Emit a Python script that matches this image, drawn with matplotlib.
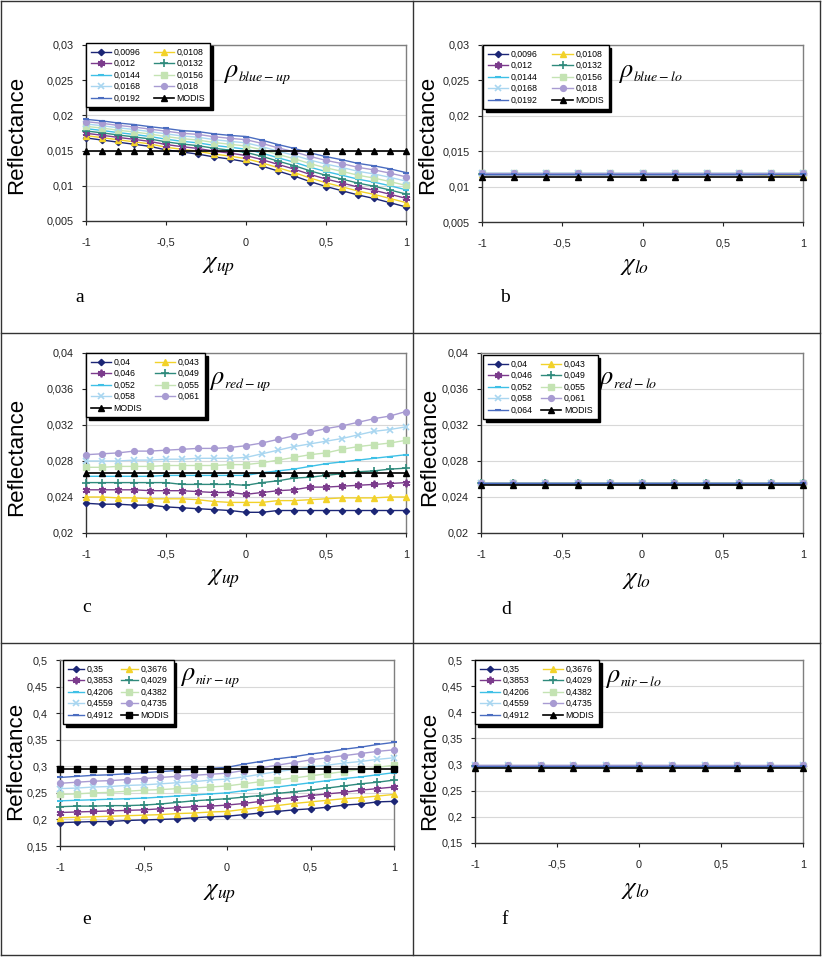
import matplotlib
matplotlib.use('Agg')
import matplotlib.pyplot as plt
from matplotlib.lines import Line2D
from matplotlib.ticker import FixedLocator, FixedFormatter

plt.rcParams['font.family'] = ['Liberation Sans', 'DejaVu Sans']
plt.rcParams['mathtext.fontset'] = 'stix'

W, H = 826, 957

# ---------------- data ----------------
x_up = [-1.0, -0.9, -0.8, -0.7, -0.6, -0.5, -0.4, -0.3, -0.2, -0.1, 0.0,
        0.1, 0.2, 0.3, 0.4, 0.5, 0.6, 0.7, 0.8, 0.9, 1.0]
x_lo = [-1.0, -0.8, -0.6, -0.4, -0.2, 0.0, 0.2, 0.4, 0.6, 0.8, 1.0]

x_ticks = [-1, -0.5, 0, 0.5, 1]
x_ticklabels = ['-1', '-0,5', '0', '0,5', '1']

# panel a / b (blue)
blue_labels = ['0,0096', '0,0108', '0,012', '0,0132', '0,0144', '0,0156', '0,0168', '0,018', '0,0192', 'MODIS']
a_0096 = [0.01680, 0.01650, 0.01620, 0.01590, 0.01560, 0.01510, 0.01480, 0.01450, 0.01410, 0.01380, 0.01340, 0.01280, 0.01210, 0.01140, 0.01060, 0.00990, 0.00930, 0.00870, 0.00820, 0.00760, 0.00700]
a_0108 = [0.01713, 0.01684, 0.01654, 0.01625, 0.01595, 0.01548, 0.01518, 0.01490, 0.01451, 0.01422, 0.01385, 0.01326, 0.01257, 0.01189, 0.01111, 0.01043, 0.00985, 0.00926, 0.00878, 0.00820, 0.00761]
a_012 = [0.01746, 0.01718, 0.01688, 0.01660, 0.01630, 0.01586, 0.01556, 0.01530, 0.01492, 0.01464, 0.01430, 0.01372, 0.01304, 0.01238, 0.01162, 0.01096, 0.01040, 0.00982, 0.00936, 0.00880, 0.00822]
a_0132 = [0.01779, 0.01752, 0.01722, 0.01695, 0.01665, 0.01624, 0.01594, 0.01570, 0.01533, 0.01506, 0.01475, 0.01418, 0.01351, 0.01287, 0.01213, 0.01149, 0.01095, 0.01038, 0.00994, 0.00940, 0.00883]
a_0144 = [0.01812, 0.01786, 0.01756, 0.01730, 0.01700, 0.01662, 0.01632, 0.01610, 0.01574, 0.01548, 0.01520, 0.01464, 0.01398, 0.01336, 0.01264, 0.01202, 0.01150, 0.01094, 0.01052, 0.01000, 0.00944]
a_0156 = [0.01845, 0.01820, 0.01790, 0.01765, 0.01735, 0.01700, 0.01670, 0.01650, 0.01615, 0.01590, 0.01565, 0.01510, 0.01445, 0.01385, 0.01315, 0.01255, 0.01205, 0.01150, 0.01110, 0.01060, 0.01005]
a_0168 = [0.01878, 0.01854, 0.01824, 0.01800, 0.01770, 0.01738, 0.01708, 0.01690, 0.01656, 0.01632, 0.01610, 0.01556, 0.01492, 0.01434, 0.01366, 0.01308, 0.01260, 0.01206, 0.01168, 0.01120, 0.01066]
a_018 = [0.01911, 0.01888, 0.01858, 0.01835, 0.01805, 0.01776, 0.01746, 0.01730, 0.01697, 0.01674, 0.01655, 0.01602, 0.01539, 0.01483, 0.01417, 0.01361, 0.01315, 0.01262, 0.01226, 0.01180, 0.01127]
a_0192 = [0.01944, 0.01922, 0.01892, 0.01870, 0.01840, 0.01814, 0.01784, 0.01770, 0.01738, 0.01716, 0.01700, 0.01648, 0.01586, 0.01532, 0.01468, 0.01414, 0.01370, 0.01318, 0.01284, 0.01240, 0.01188]
a_modis = [0.0150, 0.0150, 0.0150, 0.0150, 0.0150, 0.0150, 0.0150, 0.0150, 0.0150, 0.0150, 0.0150, 0.0150, 0.0150, 0.0150, 0.0150, 0.0150, 0.0150, 0.0150, 0.0150, 0.0150, 0.0150]

b_0096 = [0.0118, 0.0118, 0.0118, 0.0118, 0.0118, 0.0118, 0.0118, 0.0118, 0.0118, 0.0118, 0.0118]
b_0108 = [0.0118, 0.0118, 0.0118, 0.0118, 0.0118, 0.0118, 0.0118, 0.0118, 0.0118, 0.0116, 0.0116]
b_012 = [0.0118, 0.0118, 0.0118, 0.0118, 0.0118, 0.0118, 0.0118, 0.0118, 0.0118, 0.0118, 0.0118]
b_0132 = [0.0118, 0.0118, 0.0118, 0.0118, 0.0118, 0.0118, 0.0118, 0.0118, 0.0118, 0.0118, 0.0118]
b_0144 = [0.0119, 0.0119, 0.0119, 0.0119, 0.0119, 0.0119, 0.0119, 0.0119, 0.0119, 0.0119, 0.0119]
b_0156 = [0.0119, 0.0119, 0.0119, 0.0119, 0.0119, 0.0119, 0.0119, 0.0119, 0.0119, 0.0119, 0.0119]
b_0168 = [0.0119, 0.0119, 0.0119, 0.0119, 0.0119, 0.0119, 0.0119, 0.0119, 0.0119, 0.0119, 0.0119]
b_018 = [0.0119, 0.0119, 0.0119, 0.0119, 0.0119, 0.0119, 0.0119, 0.0119, 0.0119, 0.0119, 0.0119]
b_0192 = [0.0118, 0.0118, 0.0118, 0.0118, 0.0118, 0.0118, 0.0118, 0.0118, 0.0118, 0.0118, 0.0118]
b_modis = [0.0113, 0.0113, 0.0113, 0.0113, 0.0113, 0.0113, 0.0113, 0.0113, 0.0113, 0.0113, 0.0113]

blue_yticks = [0.005, 0.01, 0.015, 0.02, 0.025, 0.03]
blue_yticklabels = ['0,005', '0,01', '0,015', '0,02', '0,025', '0,03']

# panel c / d (red)
red_labels_c = ['0,04', '0,043', '0,046', '0,049', '0,052', '0,055', '0,058', '0,061', 'MODIS']
red_labels_d = ['0,04', '0,043', '0,046', '0,049', '0,052', '0,055', '0,058', '0,061', '0,064', 'MODIS']
c_04 = [0.0233, 0.0232, 0.0232, 0.0231, 0.0231, 0.0229, 0.0228, 0.0227, 0.0226, 0.0225, 0.0223, 0.0223, 0.0225, 0.0225, 0.0225, 0.0225, 0.0225, 0.0225, 0.0225, 0.0225, 0.0225]
c_043 = [0.0240, 0.0240, 0.0239, 0.0239, 0.0238, 0.0238, 0.0238, 0.0237, 0.0235, 0.0234, 0.0234, 0.0234, 0.0236, 0.0236, 0.0237, 0.0238, 0.0239, 0.0239, 0.0239, 0.0240, 0.0240]
c_046 = [0.0248, 0.0248, 0.0248, 0.0248, 0.0247, 0.0247, 0.0247, 0.0246, 0.0245, 0.0245, 0.0243, 0.0245, 0.0247, 0.0248, 0.0251, 0.0251, 0.0252, 0.0253, 0.0254, 0.0255, 0.0256]
c_049 = [0.0256, 0.0256, 0.0256, 0.0256, 0.0256, 0.0256, 0.0254, 0.0254, 0.0254, 0.0254, 0.0253, 0.0256, 0.0258, 0.0261, 0.0262, 0.0264, 0.0266, 0.0268, 0.0269, 0.0271, 0.0272]
c_052 = [0.0263, 0.0263, 0.0263, 0.0263, 0.0263, 0.0264, 0.0264, 0.0264, 0.0264, 0.0264, 0.0264, 0.0267, 0.0269, 0.0271, 0.0274, 0.0277, 0.0279, 0.0281, 0.0283, 0.0285, 0.0287]
c_055 = [0.0273, 0.0273, 0.0274, 0.0274, 0.0274, 0.0275, 0.0275, 0.0275, 0.0275, 0.0276, 0.0276, 0.0278, 0.0281, 0.0284, 0.0287, 0.0289, 0.0293, 0.0296, 0.0298, 0.0300, 0.0303]
c_058 = [0.0280, 0.0280, 0.0280, 0.0281, 0.0281, 0.0282, 0.0282, 0.0283, 0.0283, 0.0283, 0.0284, 0.0288, 0.0292, 0.0296, 0.0299, 0.0302, 0.0305, 0.0309, 0.0313, 0.0315, 0.0318]
c_061 = [0.0287, 0.0288, 0.0289, 0.0291, 0.0291, 0.0292, 0.0293, 0.0294, 0.0294, 0.0295, 0.0297, 0.0300, 0.0304, 0.0308, 0.0312, 0.0316, 0.0319, 0.0323, 0.0327, 0.0330, 0.0335]
c_modis = [0.0267, 0.0267, 0.0267, 0.0267, 0.0267, 0.0267, 0.0267, 0.0267, 0.0267, 0.0267, 0.0267, 0.0267, 0.0267, 0.0267, 0.0267, 0.0267, 0.0267, 0.0267, 0.0267, 0.0267, 0.0267]

d_04 = [0.0256, 0.0256, 0.0256, 0.0256, 0.0256, 0.0256, 0.0256, 0.0256, 0.0256, 0.0256, 0.0256]
d_043 = [0.0256, 0.0256, 0.0256, 0.0256, 0.0256, 0.0256, 0.0256, 0.0256, 0.0256, 0.0256, 0.0256]
d_046 = [0.0256, 0.0256, 0.0256, 0.0256, 0.0256, 0.0256, 0.0256, 0.0256, 0.0256, 0.0256, 0.0256]
d_049 = [0.0256, 0.0256, 0.0256, 0.0256, 0.0256, 0.0256, 0.0256, 0.0256, 0.0256, 0.0256, 0.0256]
d_052 = [0.0256, 0.0256, 0.0256, 0.0256, 0.0256, 0.0256, 0.0256, 0.0256, 0.0256, 0.0256, 0.0256]
d_055 = [0.0256, 0.0256, 0.0256, 0.0256, 0.0256, 0.0256, 0.0256, 0.0256, 0.0256, 0.0256, 0.0256]
d_058 = [0.0256, 0.0256, 0.0256, 0.0256, 0.0256, 0.0256, 0.0256, 0.0256, 0.0256, 0.0256, 0.0256]
d_061 = [0.0256, 0.0256, 0.0256, 0.0256, 0.0256, 0.0256, 0.0256, 0.0256, 0.0256, 0.0256, 0.0256]
d_064 = [0.0256, 0.0256, 0.0256, 0.0256, 0.0256, 0.0256, 0.0256, 0.0256, 0.0256, 0.0256, 0.0256]
d_modis = [0.0253, 0.0253, 0.0253, 0.0253, 0.0253, 0.0253, 0.0253, 0.0253, 0.0253, 0.0253, 0.0253]

red_yticks = [0.02, 0.024, 0.028, 0.032, 0.036, 0.04]
red_yticklabels = ['0,02', '0,024', '0,028', '0,032', '0,036', '0,04']

# panel e / f (nir)
nir_labels = ['0,35', '0,3676', '0,3853', '0,4029', '0,4206', '0,4382', '0,4559', '0,4735', '0,4912', 'MODIS']
e_35 = [0.194, 0.195, 0.196, 0.196, 0.198, 0.199, 0.200, 0.201, 0.203, 0.205, 0.206, 0.209, 0.212, 0.215, 0.218, 0.220, 0.223, 0.227, 0.229, 0.233, 0.234]
e_3676 = [0.203, 0.204, 0.205, 0.206, 0.207, 0.208, 0.209, 0.211, 0.212, 0.214, 0.215, 0.219, 0.223, 0.226, 0.230, 0.233, 0.236, 0.239, 0.241, 0.244, 0.247]
e_3853 = [0.213, 0.214, 0.215, 0.216, 0.217, 0.218, 0.220, 0.222, 0.224, 0.225, 0.227, 0.230, 0.234, 0.238, 0.241, 0.245, 0.248, 0.251, 0.255, 0.258, 0.261]
e_4029 = [0.224, 0.225, 0.225, 0.226, 0.226, 0.227, 0.229, 0.232, 0.235, 0.237, 0.239, 0.242, 0.245, 0.249, 0.252, 0.255, 0.259, 0.263, 0.267, 0.270, 0.274]
e_4206 = [0.235, 0.236, 0.237, 0.238, 0.239, 0.240, 0.242, 0.244, 0.246, 0.248, 0.250, 0.254, 0.258, 0.261, 0.265, 0.269, 0.273, 0.277, 0.280, 0.284, 0.288]
e_4382 = [0.247, 0.248, 0.250, 0.251, 0.253, 0.255, 0.256, 0.258, 0.259, 0.261, 0.263, 0.267, 0.271, 0.274, 0.278, 0.282, 0.286, 0.290, 0.294, 0.298, 0.302]
e_4559 = [0.258, 0.259, 0.261, 0.262, 0.264, 0.265, 0.267, 0.269, 0.271, 0.274, 0.276, 0.280, 0.285, 0.290, 0.294, 0.299, 0.302, 0.306, 0.309, 0.313, 0.316]
e_4735 = [0.268, 0.270, 0.272, 0.273, 0.275, 0.277, 0.279, 0.281, 0.283, 0.285, 0.287, 0.292, 0.297, 0.302, 0.307, 0.312, 0.316, 0.320, 0.324, 0.328, 0.331]
e_4912 = [0.279, 0.281, 0.283, 0.284, 0.286, 0.288, 0.290, 0.292, 0.294, 0.296, 0.298, 0.304, 0.309, 0.314, 0.318, 0.323, 0.327, 0.332, 0.336, 0.341, 0.345]
e_modis = [0.295, 0.295, 0.295, 0.295, 0.295, 0.295, 0.295, 0.295, 0.295, 0.295, 0.295, 0.295, 0.295, 0.295, 0.295, 0.295, 0.295, 0.295, 0.295, 0.295, 0.295]

f_35 = [0.298, 0.298, 0.298, 0.298, 0.298, 0.298, 0.298, 0.298, 0.298, 0.298, 0.298]
f_3676 = [0.298, 0.298, 0.298, 0.298, 0.298, 0.298, 0.298, 0.298, 0.298, 0.298, 0.298]
f_3853 = [0.298, 0.298, 0.298, 0.298, 0.298, 0.298, 0.298, 0.298, 0.296, 0.296, 0.296]
f_4029 = [0.297, 0.297, 0.297, 0.297, 0.297, 0.297, 0.297, 0.297, 0.297, 0.297, 0.297]
f_4206 = [0.298, 0.298, 0.298, 0.298, 0.298, 0.298, 0.298, 0.298, 0.298, 0.298, 0.298]
f_4382 = [0.298, 0.298, 0.298, 0.298, 0.298, 0.298, 0.298, 0.298, 0.298, 0.298, 0.298]
f_4559 = [0.299, 0.299, 0.299, 0.299, 0.299, 0.299, 0.299, 0.299, 0.299, 0.299, 0.299]
f_4735 = [0.299, 0.299, 0.299, 0.299, 0.299, 0.299, 0.299, 0.299, 0.299, 0.299, 0.299]
f_4912 = [0.298, 0.298, 0.298, 0.298, 0.298, 0.298, 0.298, 0.298, 0.298, 0.298, 0.298]
f_modis = [0.293, 0.293, 0.293, 0.293, 0.293, 0.293, 0.293, 0.293, 0.293, 0.293, 0.293]

nir_yticks = [0.15, 0.2, 0.25, 0.3, 0.35, 0.4, 0.45, 0.5]
nir_yticklabels = ['0,15', '0,2', '0,25', '0,3', '0,35', '0,4', '0,45', '0,5']

# ---------------- styles ----------------
series_styles = [
    dict(color='#1c2676', marker='D', ms=3.2),
    dict(color='#f2d22a', marker='^', ms=4.5),
    dict(color='#7b3b8c', marker=(6, 2, 0), ms=5.5, mew=1.3),
    dict(color='#2f8a7c', marker='+', ms=5.5, mew=1.2),
    dict(color='#3ec0e6', marker='_', ms=5, mew=1.5),
    dict(color='#c4e3b3', marker='s', ms=4),
    dict(color='#a9d6f0', marker='x', ms=4.5, mew=1.2),
    dict(color='#a89bd2', marker='o', ms=4.2),
    dict(color='#4a6cc0', marker='_', ms=4, mew=1.5),
]
modis_tri = dict(color='black', marker='^', ms=5)
modis_sq = dict(color='black', marker='s', ms=4.5)

fig = plt.figure(figsize=(W / 100, H / 100), dpi=100)


def fx(px):
    return px / W


def fy(py):
    return 1 - py / H


def panel(box, x, series, modis, modis_style, labels, ylim, yticks, yticklabels,
          legend_xy, leg_hl, leg_cs, ylab_xy, xlab, xlab_xy, rho_sub, rho_xy,
          letter, letter_xy):
    l, r, t, b = box
    ax = fig.add_axes([fx(l), fy(b), (r - l) / W, (b - t) / H])
    handles = []
    for vals, st in zip(series, series_styles):
        h, = ax.plot(x, vals, lw=1.0, clip_on=False, zorder=3, **st)
        handles.append(h)
    h, = ax.plot(x, modis, lw=1.2, clip_on=False, zorder=4, **modis_style)
    handles.append(h)
    ax.set_xlim(-1, 1)
    ax.set_ylim(*ylim)
    ax.xaxis.set_major_locator(FixedLocator(x_ticks))
    ax.xaxis.set_major_formatter(FixedFormatter(x_ticklabels))
    ax.yaxis.set_major_locator(FixedLocator(yticks))
    ax.yaxis.set_major_formatter(FixedFormatter(yticklabels))
    ax.tick_params(axis='both', labelsize=7.8, length=3, width=0.8, colors='#222222')
    ax.tick_params(axis='x', pad=9)
    ax.tick_params(axis='y', pad=6)
    ax.yaxis.grid(True, color='#d8d8d8', lw=0.8)
    ax.set_axisbelow(True)
    for s in ['left', 'bottom']:
        ax.spines[s].set_color('#333333')
        ax.spines[s].set_linewidth(1.0)
    for s in ['top', 'right']:
        ax.spines[s].set_color('#7f7f7f')
        ax.spines[s].set_linewidth(1.0)
    order = handles[0::2] + handles[1::2]
    lab_order = labels[0::2] + labels[1::2]
    leg = ax.legend(order, lab_order, ncol=2, loc='upper left',
                    bbox_to_anchor=(fx(legend_xy[0]), fy(legend_xy[1])),
                    bbox_transform=fig.transFigure, borderaxespad=0,
                    fontsize=6.3, frameon=True, fancybox=False,
                    shadow={'color': 'black', 'alpha': 1.0},
                    handlelength=leg_hl, handletextpad=0.3, columnspacing=leg_cs,
                    labelspacing=0.28, borderpad=0.55)
    leg.get_frame().set_edgecolor('black')
    leg.get_frame().set_linewidth(1.0)
    leg.get_frame().set_alpha(1.0)
    fig.text(fx(ylab_xy[0]), fy(ylab_xy[1]), 'Reflectance', rotation=90,
             ha='center', va='center', fontsize=16)
    fig.text(fx(xlab_xy[0]), fy(xlab_xy[1]), xlab, ha='center', va='center', fontsize=18)
    # rho with a small italic subscript
    fig.text(fx(rho_xy[0]), fy(rho_xy[1]), r'$\rho$', ha='left', va='baseline', fontsize=19)
    fig.text(fx(rho_xy[0] + 15), fy(rho_xy[1] + 4), rho_sub, ha='left', va='baseline',
             fontsize=10)
    fig.text(fx(letter_xy[0]), fy(letter_xy[1]), letter, ha='center', va='center',
             fontsize=14, family='Liberation Serif')
    return ax


panel((86, 406, 45, 221), x_up,
      [a_0096, a_0108, a_012, a_0132, a_0144, a_0156, a_0168, a_018, a_0192],
      a_modis, modis_tri, blue_labels, (0.005, 0.03), blue_yticks, blue_yticklabels,
      (86, 43), 2.3, 1.5, (17, 135), r'$\chi_{up}$', (219, 266),
      r'$blue-up$', (223, 77), 'a', (80, 298))

panel((482, 803, 45, 222), x_lo,
      [b_0096, b_0108, b_012, b_0132, b_0144, b_0156, b_0168, b_018, b_0192],
      b_modis, modis_tri, blue_labels, (0.005, 0.03), blue_yticks, blue_yticklabels,
      (483, 45), 2.3, 1.7, (428, 135), r'$\chi_{lo}$', (635, 265),
      r'$blue-lo$', (618, 77), 'b', (505, 298))

panel((86, 406, 353, 533), x_up,
      [c_04, c_043, c_046, c_049, c_052, c_055, c_058, c_061],
      c_modis, modis_tri, red_labels_c, (0.02, 0.04), red_yticks, red_yticklabels,
      (86, 353), 2.3, 1.5, (17, 457), r'$\chi_{up}$', (224, 578),
      r'$red-up$', (209, 384), 'c', (87, 608))

panel((481, 803, 353, 533), x_lo,
      [d_04, d_043, d_046, d_049, d_052, d_055, d_058, d_061, d_064],
      d_modis, modis_tri, red_labels_d, (0.02, 0.04), red_yticks, red_yticklabels,
      (483, 355), 2.3, 1.0, (430, 447), r'$\chi_{lo}$', (637, 579),
      r'$red-lo$', (598, 384), 'd', (506, 609))

panel((60, 394, 660, 846), x_up,
      [e_35, e_3676, e_3853, e_4029, e_4206, e_4382, e_4559, e_4735, e_4912],
      e_modis, modis_sq, nir_labels, (0.15, 0.5), nir_yticks, nir_yticklabels,
      (63, 660), 1.9, 0.8, (16, 761), r'$\chi_{up}$', (220, 893),
      r'$nir-up$', (180, 680), 'e', (87, 920))

panel((475, 803, 660, 843), x_lo,
      [f_35, f_3676, f_3853, f_4029, f_4206, f_4382, f_4559, f_4735, f_4912],
      f_modis, modis_tri, nir_labels, (0.15, 0.5), nir_yticks, nir_yticklabels,
      (475, 660), 2.3, 1.5, (430, 771), r'$\chi_{lo}$', (636, 889),
      r'$nir-lo$', (605, 682), 'f', (505, 920))

# table-like frame
frame_lines = [
    ((1, 1), (1, 955)), ((820, 820), (1, 955)),
    ((1, 820), (1, 1)), ((1, 820), (955, 955)),
    ((413, 413), (1, 955)),
    ((1, 820), (333, 333)), ((1, 820), (643, 643)),
]
for xs, ys in frame_lines:
    fig.add_artist(Line2D([fx(v) for v in xs], [fy(v) for v in ys],
                          transform=fig.transFigure, color='#333333', lw=1.0))

fig.savefig('out.png', dpi=100)
